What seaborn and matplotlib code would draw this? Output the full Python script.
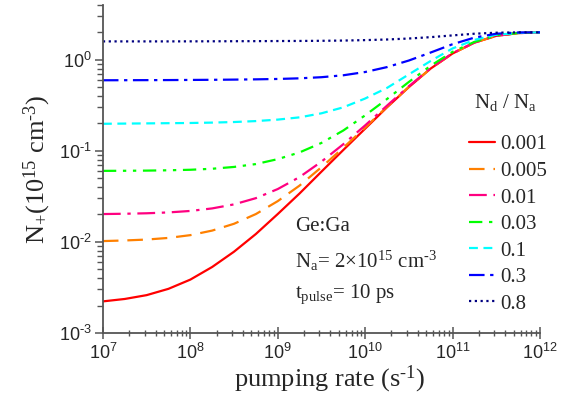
import numpy as np
import pandas as pd
import matplotlib
matplotlib.use("Agg")
import matplotlib.pyplot as plt
import seaborn as sns
from matplotlib.lines import Line2D

# ---------------- data ----------------
log_rate = [7.00, 7.25, 7.50, 7.75, 8.00, 8.25, 8.50, 8.75, 9.00, 9.25, 9.50,
            9.75, 10.00, 10.25, 10.50, 10.75, 11.00, 11.25, 11.50, 11.75, 12.00]

n_0001 = [0.00222, 0.00236, 0.00260, 0.00305, 0.00385, 0.0053, 0.0078, 0.0122, 0.0202,
          0.034, 0.059, 0.102, 0.175, 0.300, 0.500, 0.800, 1.17, 1.54, 1.83, 1.96, 2.0]
n_0005 = [0.0102, 0.01036, 0.0106, 0.01105, 0.01185, 0.0133, 0.0158, 0.0202, 0.028,
          0.0415, 0.066, 0.108, 0.180, 0.304, 0.503, 0.802, 1.17, 1.54, 1.83, 1.96, 2.0]
n_001 = [0.0202, 0.02036, 0.0206, 0.02105, 0.02185, 0.0233, 0.0258, 0.0302, 0.038,
         0.0515, 0.076, 0.118, 0.190, 0.313, 0.511, 0.808, 1.18, 1.545, 1.835, 1.96, 2.0]
n_003 = [0.0602, 0.06035, 0.0606, 0.0611, 0.0619, 0.0635, 0.0665, 0.0715, 0.081,
         0.096, 0.122, 0.167, 0.245, 0.37, 0.57, 0.86, 1.22, 1.57, 1.85, 1.965, 2.0]
n_01 = [0.198, 0.199, 0.200, 0.201, 0.202, 0.204, 0.207, 0.212, 0.220,
        0.233, 0.258, 0.300, 0.375, 0.49, 0.69, 0.97, 1.33, 1.65, 1.88, 1.97, 2.0]
n_03 = [0.595, 0.596, 0.597, 0.598, 0.600, 0.602, 0.605, 0.609, 0.615,
        0.625, 0.643, 0.675, 0.733, 0.83, 0.98, 1.20, 1.48, 1.75, 1.93, 1.99, 2.0]
n_08 = [1.59, 1.59, 1.59, 1.59, 1.592, 1.594, 1.597, 1.600, 1.604,
        1.608, 1.614, 1.624, 1.642, 1.668, 1.71, 1.77, 1.85, 1.93, 1.98, 1.998, 2.0]

ratio_labels = ["0.001", "0.005", "0.01", "0.03", "0.1", "0.3", "0.8"]
series = [n_0001, n_0005, n_001, n_003, n_01, n_03, n_08]
colors = ["#FF0000", "#FF8000", "#FF0080", "#00FF00", "#00FFFF", "#0000FF", "#000080"]
styles = ["-", (0, (7, 4)), (0, (8, 3, 1.5, 3)), (0, (6, 3, 1.5, 3, 1.5, 3)),
          (0, (4, 2.5)), (0, (7, 2.5, 1.5, 2.5)), (0, (1, 1.6))]

x_ticks = [1e7, 1e8, 1e9, 1e10, 1e11, 1e12]
x_ticklabels = ["7", "8", "9", "10", "11", "12"]
y_ticks = [1e-3, 1e-2, 1e-1, 1e0]
y_ticklabels = ["-3", "-2", "-1", "0"]

# ---------------- style ----------------
sns.set_style("ticks")
plt.rcParams["font.family"] = ["Liberation Serif", "DejaVu Serif"]
plt.rcParams["mathtext.fontset"] = "custom"
plt.rcParams["mathtext.rm"] = "Liberation Serif"
plt.rcParams["mathtext.it"] = "Liberation Serif:italic"
plt.rcParams["mathtext.sf"] = "Liberation Sans"


def sup_label(exp):
    exp = exp.replace("-", r"\text{-}")
    return r"$\mathsf{10^{%s}}$" % exp


fig = plt.figure(figsize=(5.75, 4.09), dpi=100)
ax = fig.add_axes([0.179, 0.186, 0.760, 0.802])

rate = [10 ** v for v in log_rate]
for lab, vals, c, ls in zip(ratio_labels, series, colors, styles):
    df = pd.DataFrame({"rate": rate, "N": vals})
    sns.lineplot(data=df, x="rate", y="N", ax=ax, color=c, linestyle=ls,
                 linewidth=1.6, estimator=None, sort=False)

ax.set_xscale("log")
ax.set_yscale("log")
ax.set_xlim(1e7, 1e12)
ax.set_ylim(1e-3, 4.0)

ax.set_xticks(x_ticks)
ax.set_xticklabels([sup_label(t) for t in x_ticklabels], fontsize=13)
ax.set_yticks(y_ticks)
ax.set_yticklabels([sup_label(t) for t in y_ticklabels], fontsize=13)
ax.xaxis.set_minor_locator(matplotlib.ticker.LogLocator(base=10, subs=np.arange(2, 10)))
ax.yaxis.set_minor_locator(matplotlib.ticker.LogLocator(base=10, subs=np.arange(2, 10)))
ax.xaxis.set_minor_formatter(matplotlib.ticker.NullFormatter())
ax.yaxis.set_minor_formatter(matplotlib.ticker.NullFormatter())

spine_col = "#555555"
for s in ["top", "right"]:
    ax.spines[s].set_visible(False)
for s in ["left", "bottom"]:
    ax.spines[s].set_color(spine_col)
    ax.spines[s].set_linewidth(1.3)
ax.tick_params(axis="x", which="major", direction="inout", length=8, width=1.1, color=spine_col, pad=3)
ax.tick_params(axis="x", which="minor", direction="inout", length=5, width=1.0, color=spine_col)
ax.tick_params(axis="y", which="major", direction="out", length=6, width=1.1, color=spine_col, pad=2)
ax.tick_params(axis="y", which="minor", direction="out", length=4, width=1.0, color=spine_col)

ax.set_xlabel(r"pumping rate (s$^{\text{-}1}$)", fontsize=19, labelpad=6)
ax.xaxis.set_label_coords(0.518, -0.095, transform=ax.transAxes)
ax.xaxis.label.set_va("top")
ax.set_ylabel(r"N$_{+}$(10$^{15}$ cm$^{\text{-}3}$)", fontsize=19, labelpad=4)

# annotations
ax.text(0.44, 0.325, "Ge:Ga", transform=ax.transAxes, fontsize=15, va="center", ha="left")
ax.text(0.44, 0.221, r"N$_\mathrm{a}$= 2$\times$10$^{15}$ cm$^{\text{-}3}$", transform=ax.transAxes,
        fontsize=15, va="center", ha="left")
ax.text(0.44, 0.118, r"t$_\mathrm{pulse}$= 10 ps", transform=ax.transAxes, fontsize=15,
        va="center", ha="left")

# legend title as separate text, legend entries below
ax.text(0.848, 0.702, r"N$_\mathrm{d}$ / N$_\mathrm{a}$", transform=ax.transAxes,
        fontsize=15, va="center", ha="left")
handles = [Line2D([0], [0], color=c, linestyle=ls, linewidth=1.6)
           for c, ls in zip(colors, styles)]
leg = ax.legend(handles, ratio_labels, loc="upper left", bbox_to_anchor=(0.838, 0.604),
                frameon=False, fontsize=15, handlelength=1.25, handletextpad=0.25,
                labelspacing=0.335, borderaxespad=0, borderpad=0)

fig.savefig("out.png", dpi=100)
